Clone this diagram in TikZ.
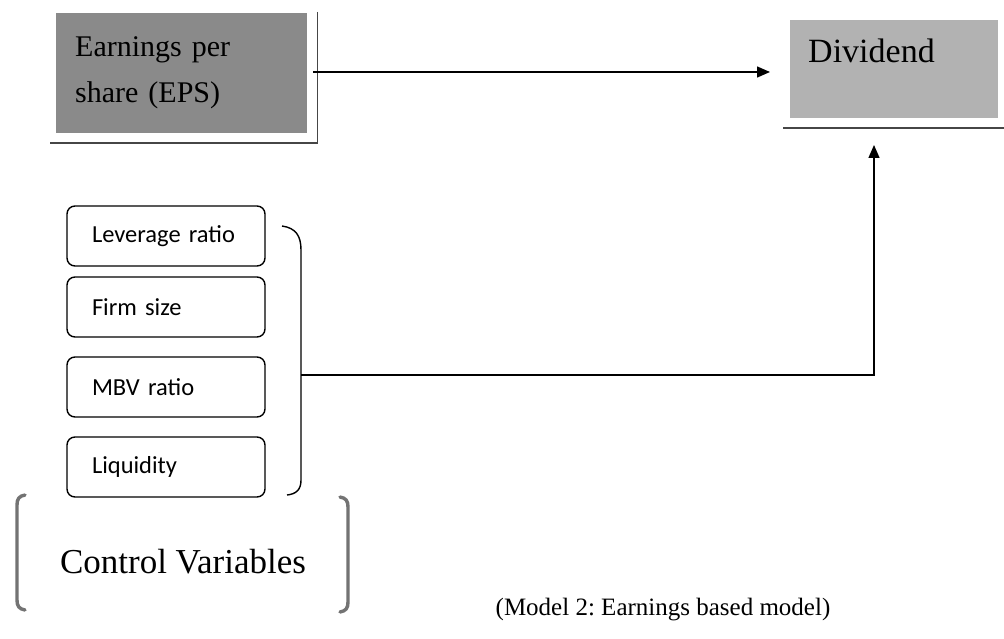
\documentclass[tikz,border=0pt]{standalone}
\usepackage{fontspec}
\setmainfont{Liberation Serif}
\newfontfamily\calib{Carlito}
\usetikzlibrary{arrows.meta,calc}
\frenchspacing
\definecolor{epsgray}{RGB}{138,138,138}
\definecolor{divgray}{RGB}{178,178,178}
\definecolor{brgray}{RGB}{115,115,115}
\definecolor{shadowdark}{RGB}{70,70,70}
\tikzset{
  varbox/.style={draw, line width=1.4pt, rounded corners=8pt, minimum width=198pt, minimum height=60pt,
    text width=148pt, align=left, inner xsep=25pt, font=\calib\fontsize{24.5}{28}\selectfont},
  link/.style={line width=1.4pt, -{Triangle[length=13pt,width=11pt]}},
  shadowline/.style={draw=shadowdark, line width=2.2pt},
  bigbracket/.style={draw=brgray, line width=3.4pt, line cap=round},
}
\begin{document}
\begin{tikzpicture}[x=1pt,y=-1pt]
\useasboundingbox (0,0) rectangle (1004,639);
\fill[white] (0,0) rectangle (1004,639);

% Earnings per share box
\node[fill=epsgray, anchor=north west, minimum width=251pt, minimum height=120pt,
  text width=213pt, inner xsep=19pt, align=left, font=\fontsize{30}{46}\selectfont]
  (eps) at (56,13) {Earnings per\\share (EPS)};
\draw[shadowline] (50,143) -- (318,143);
\draw[draw=shadowdark, line width=0.8pt] (317,12) -- (317,143);

% Dividend box
\node[fill=divgray, anchor=north west, inner xsep=18pt, inner ysep=0pt, text width=172pt,
  text height=42pt, text depth=56pt, align=left, font=\fontsize{34}{40}\selectfont]
  (div) at (790,20) {Dividend};
\draw[shadowline] (783,128) -- (1004,128);

% EPS -> Dividend
\coordinate (epsout) at (313,72);
\coordinate (divin) at (770,72);
\draw[link] (epsout) -- (divin);

% Control variable boxes
\node[varbox] (lev) at (166,236) {Leverage ratio};
\node[varbox] (firm) at (166,307) {Firm size};
\node[varbox] (mbv) at (166,387) {MBV ratio};
\node[varbox] (liq) at (166,467) {Liquidity};

% right brace
\draw[line width=1.4pt] (282,226) .. controls (296,228) and (301,236) .. (301,250)
  -- (301,480) .. controls (301,490) and (296,494) .. (287,495);
\coordinate (bracemid) at (301,375);
\coordinate (corner) at (874,375);
\coordinate (divbelow) at (874,145);
\draw[link] (bracemid) -- (corner) -- (divbelow);

% big brackets
\draw[bigbracket] (25,495) .. controls (19,496) and (17,499) .. (17,505) -- (17,600) .. controls (17,606) and (19,609) .. (25,610);
\draw[bigbracket] (340,497) .. controls (346,498) and (348,501) .. (348,507) -- (348,602) .. controls (348,608) and (346,611) .. (340,612);
\node[font=\fontsize{35}{40}\selectfont] (ctrl) at (183,562) {Control Variables};

% caption
\node[font=\fontsize{25}{30}\selectfont] (cap) at (663,610) {(Model 2: Earnings based model)};
\end{tikzpicture}
\end{document}
